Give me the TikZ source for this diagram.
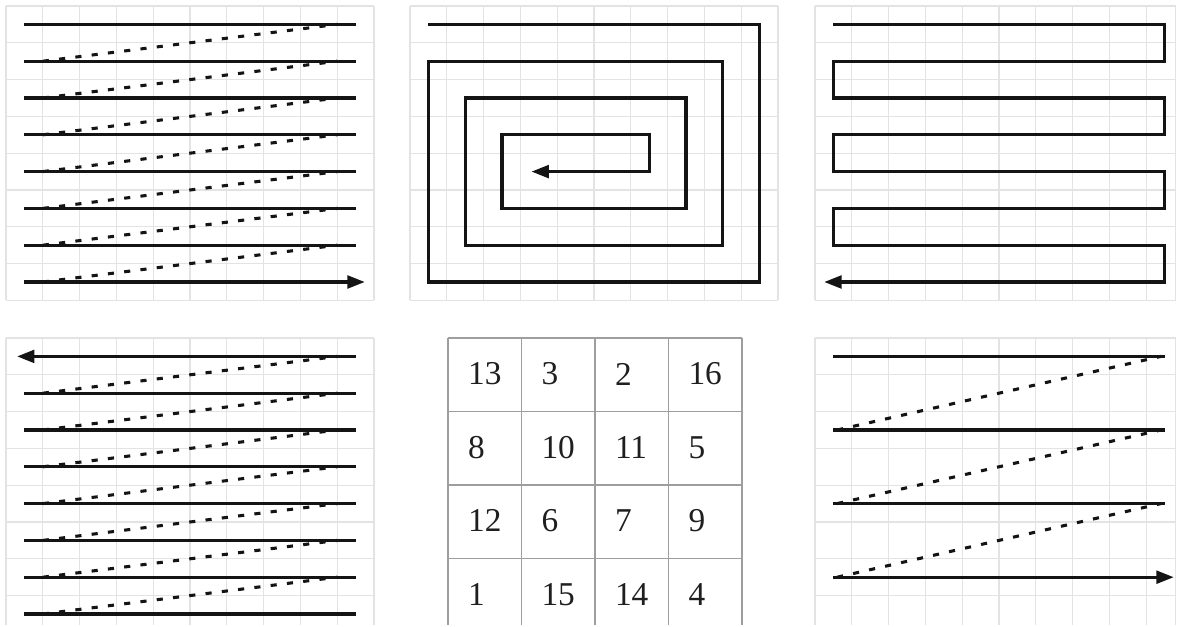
\documentclass[tikz,border=0pt]{standalone}
\usepackage{fontspec}
\setmainfont{Liberation Serif}
\usepackage{tikz}
\usetikzlibrary{arrows.meta}

\begin{document}
\begin{tikzpicture}[
  x=0.75pt, y=-0.75pt, line join=miter,
  gridline/.style={draw=black!11, line width=0.8pt},
  trace/.style={draw=black!92, line width=2.3pt},
  zigback/.style={trace, dash pattern=on 4.6pt off 7.7pt},
  tip/.style={-{Triangle[length=13pt,width=9.5pt]}},
  cellline/.style={draw=black!38, line width=1.1pt},
  cellnum/.style={anchor=west, inner sep=0pt, text=black!88,
                  font=\fontsize{25}{30}\selectfont}]

\useasboundingbox (0,0) rectangle (1177,627);

% ================================================================ row scan, left to right
\begin{scope}[shift={(6,6)}, x=27.6pt, y=-27.6pt]
  \foreach \gx in {0,...,10} \draw[gridline] (\gx,0) -- (\gx,8);
  \foreach \gy in {0,...,8} \draw[gridline] (0,\gy) -- (10,\gy);
  \foreach \r in {0,...,6} \draw[trace] (0.5,\r+0.5) -- (9.5,\r+0.5);
  \draw[trace, tip] (0.5,7.5) -- (9.75,7.5);
  \foreach \r in {0,...,6} \draw[zigback] (1,\r+1.5) -- (9,\r+0.5);
\end{scope}

% ================================================================ spiral
\begin{scope}[shift={(410,6)}, x=27.6pt, y=-27.6pt]
  \foreach \gx in {0,...,10} \draw[gridline] (\gx,0) -- (\gx,8);
  \foreach \gy in {0,...,8} \draw[gridline] (0,\gy) -- (10,\gy);
  \draw[trace, tip] (0.5,0.5) -- (9.5,0.5) -- (9.5,7.5) -- (0.5,7.5)
    -- (0.5,1.5) -- (8.5,1.5) -- (8.5,6.5) -- (1.5,6.5)
    -- (1.5,2.5) -- (7.5,2.5) -- (7.5,5.5) -- (2.5,5.5)
    -- (2.5,3.5) -- (6.5,3.5) -- (6.5,4.5) -- (3.3,4.5);
\end{scope}

% ================================================================ serpentine
\begin{scope}[shift={(815,6)}, x=27.6pt, y=-27.6pt]
  \foreach \gx in {0,...,9} \draw[gridline] (\gx,0) -- (\gx,8);
  \draw[gridline] (9.8,0) -- (9.8,8);
  \foreach \gy in {0,...,8} \draw[gridline] (0,\gy) -- (9.8,\gy);
  \draw[trace, tip] (0.5,0.5) -- (9.5,0.5) |- (0.5,1.5) |- (9.5,2.5)
    |- (0.5,3.5) |- (9.5,4.5) |- (0.5,5.5) |- (9.5,6.5) |- (0.25,7.5);
\end{scope}

% ================================================================ row scan, bottom up
\begin{scope}[shift={(6,338)}, x=27.6pt, y=-27.6pt]
  \foreach \gx in {0,...,10} \draw[gridline] (\gx,0) -- (\gx,7.8);
  \foreach \gy in {0,...,7} \draw[gridline] (0,\gy) -- (10,\gy);
  \draw[trace, tip] (9.5,0.5) -- (0.3,0.5);
  \foreach \r in {1,...,7} \draw[trace] (0.5,\r+0.5) -- (9.5,\r+0.5);
  \foreach \r in {0,...,6} \draw[zigback] (1,\r+1.5) -- (9,\r+0.5);
\end{scope}

% ================================================================ magic square
\begin{scope}[shift={(448,338)}, x=55.1pt, y=-55.1pt]
  \foreach \cx in {0,...,4} \draw[cellline] (\cx,0) -- (\cx,3.9);
  \foreach \cy in {0,...,3} \draw[cellline] (0,\cy) -- (4,\cy);
  \foreach \num [count=\i from 0] in {13,3,2,16,8,10,11,5,12,6,7,9,1,15,14,4} {
    \pgfmathtruncatemacro\col{mod(\i,4)}
    \pgfmathtruncatemacro\row{div(\i,4)}
    \node[cellnum] (m\num) at (\col+0.27,\row+0.49) {\num};
  }
\end{scope}

% ================================================================ every other row
\begin{scope}[shift={(815,338)}, x=27.6pt, y=-27.6pt]
  \foreach \gx in {0,...,9} \draw[gridline] (\gx,0) -- (\gx,7.8);
  \draw[gridline] (9.8,0) -- (9.8,7.8);
  \foreach \gy in {0,...,7} \draw[gridline] (0,\gy) -- (9.8,\gy);
  \foreach \r in {0,2,4} \draw[trace] (0.5,\r+0.5) -- (9.5,\r+0.5);
  \draw[trace, tip] (0.5,6.5) -- (9.75,6.5);
  \foreach \r in {0,2,4} \draw[zigback] (0.6,\r+2.5) -- (9.4,\r+0.5);
\end{scope}

\end{tikzpicture}
\end{document}
